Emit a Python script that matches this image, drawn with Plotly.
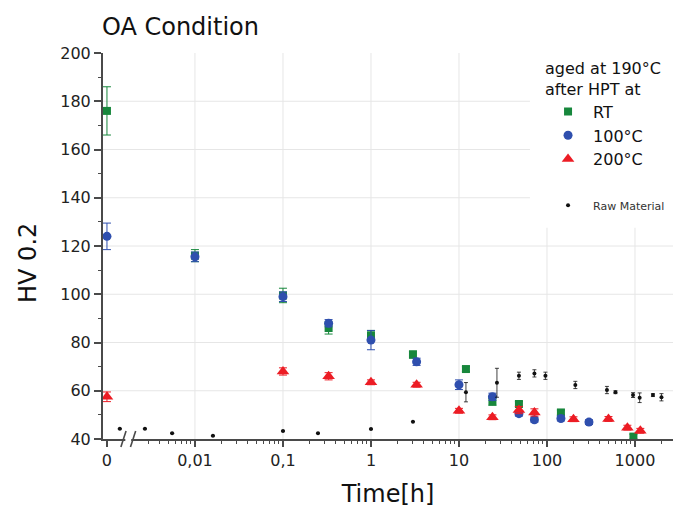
import plotly.graph_objects as go

# Time axis: t = 0 is drawn at the 1e-3 position, left of the axis break
T_ZERO = 1e-3

# Aged at 190 °C after HPT at room temperature
rt_time = [T_ZERO, 0.01, 0.1, 0.33, 1, 3, 12, 24, 48, 144, 960]
rt_hv = [176, 116, 99.5, 86, 83, 75, 69, 55.5, 54.5, 51, 41]
rt_err = [10, 2.5, 3, 2.5, 2, 1.5, 1, 1.5, 1, 1, 1]

# Aged at 190 °C after HPT at 100 °C
c100_time = [T_ZERO, 0.01, 0.1, 0.33, 1, 3.3, 10, 24, 48, 72, 144, 300]
c100_hv = [124, 115.5, 99, 88, 81, 72, 62.5, 57.5, 50.5, 48, 48.5, 47]
c100_err = [5.5, 2, 2, 1.5, 4, 1.5, 2, 1.5, 1, 1, 1, 1]

# Aged at 190 °C after HPT at 200 °C
c200_time = [T_ZERO, 0.1, 0.33, 1, 3.3, 10, 24, 48, 72, 200, 500, 820, 1150]
c200_hv = [57.5, 68, 66, 63.5, 62.5, 51.7, 49, 52, 51, 48.2, 48.3, 44.7, 43.4]
c200_err = [2, 1.5, 1.5, 1, 1, 1, 1, 1.5, 1.5, 1, 1, 1, 1]

# Raw material
raw_time = [0.0014, 0.0027, 0.0055, 0.016, 0.1, 0.25, 1, 3, 12, 27, 48, 72, 96,
            210, 480, 600, 950, 1130, 1600, 2000]
raw_hv = [44.2, 44.2, 42.4, 41.3, 43.3, 42.4, 44.1, 47.2, 59.4, 63.3, 66.2, 67.2,
          66.2, 62.4, 60.3, 59.4, 58.2, 57.1, 58.2, 57.3]
raw_err = [0, 0, 0, 0, 0, 0, 0, 0, 4, 6, 1.5, 1.5, 1.5, 1.5, 1.5, 0.6, 1, 2, 0.6, 1.5]

# Axis ticks
x_tickvals = [T_ZERO, 0.01, 0.1, 1, 10, 100, 1000]
x_ticktext = ["0", "0,01", "0,1", "1", "10", "100", "1000"]
x_gridvals = [0.01, 0.1, 1, 10, 100, 1000]
y_tickvals = list(range(40, 201, 20))
y_gridvals = list(range(60, 181, 20))

# Where the axis break "//" sits (in hours)
BREAK_AT = [0.00154, 0.00198]

FONT = "DejaVu Sans"
GREEN = "#17873c"
BLUE = "#2f4fae"
RED = "#ec1c24"
AXIS = "#4a4a4a"
GRID = "#e6e6e6"

# Minor ticks: 2..9 per decade, skipping the part hidden by the break
minor_vals = []
for dec in range(-3, 4):
    for m in range(2, 10):
        v = m * 10 ** dec
        if 0.0025 < v <= 2000:
            minor_vals.append(v)

fig = go.Figure()


def add_series(name, t, hv, err, color, symbol, size, legend, cap=4, thick=1):
    fig.add_trace(go.Scatter(
        x=t, y=hv, mode="markers", name=name, legend=legend,
        marker=dict(color=color, symbol=symbol, size=size, line=dict(width=0)),
        error_y=dict(type="data", array=err, visible=True, color=color,
                     thickness=thick, width=cap),
    ))


add_series("RT", rt_time, rt_hv, rt_err, GREEN, "square", 8, "legend")
add_series("100°C", c100_time, c100_hv, c100_err, BLUE, "circle", 9, "legend")
add_series("200°C", c200_time, c200_hv, c200_err, RED, "triangle-up", 11, "legend")
add_series("Raw Material", raw_time, raw_hv, raw_err, "#111111", "circle", 4,
           "legend2", cap=2, thick=0.8)

x_range = [-3.045, 3.432]

shapes = []
# light grid
for v in x_gridvals:
    shapes.append(dict(type="line", xref="x", yref="paper", x0=v, x1=v,
                       y0=0, y1=1, line=dict(color=GRID, width=1), layer="below"))
for v in y_gridvals:
    shapes.append(dict(type="line", xref="paper", yref="y", x0=0, x1=1, y0=v, y1=v,
                       line=dict(color=GRID, width=1), layer="below"))
# white panel behind the legend
shapes.append(dict(type="rect", xref="paper", yref="paper", x0=0.749, x1=1.01, y0=0.547, y1=1.0,
                   fillcolor="white", line=dict(width=0), layer="below"))
# axis break marks "//"
lo, hi = BREAK_AT
shapes.append(dict(type="rect", xref="x", yref="paper", x0=lo * 1.05, x1=hi / 1.05,
                   y0=-0.008, y1=0.008, fillcolor="white", line=dict(width=0), layer="above"))
for c in BREAK_AT:
    shapes.append(dict(type="line", xref="x", yref="paper", x0=c / 1.07, x1=c * 1.07,
                       y0=-0.021, y1=0.021, line=dict(color=AXIS, width=1.6), layer="above"))

fig.update_layout(
    width=675, height=511,
    margin=dict(l=103, r=2, t=53, b=72),
    paper_bgcolor="white", plot_bgcolor="white",
    font=dict(family=FONT, color="#222222", size=16),
    title=dict(text="OA Condition", x=0.151, xanchor="left", xref="container",
               y=1 - 27 / 511, yanchor="middle", yref="container",
               font=dict(size=24, color="#111111", family=FONT)),
    shapes=shapes,
    xaxis=dict(
        type="log", range=x_range,
        tickmode="array", tickvals=x_tickvals, ticktext=x_ticktext,
        ticks="outside", ticklen=6, tickwidth=1.5, tickcolor=AXIS,
        minor=dict(tickmode="array", tickvals=minor_vals, ticks="outside",
                   ticklen=3, tickwidth=1, tickcolor=AXIS, showgrid=False),
        showline=True, linecolor=AXIS, linewidth=2,
        showgrid=False, zeroline=False,
        tickfont=dict(size=16, color="#222222"),
        title=dict(text="Time[h]", font=dict(size=24, color="#111111"), standoff=16),
    ),
    yaxis=dict(
        range=[40, 200], tickmode="array", tickvals=y_tickvals,
        ticks="outside", ticklen=7, tickwidth=1.5, tickcolor=AXIS,
        minor=dict(dtick=10, tick0=0, ticks="outside", ticklen=3, tickwidth=1,
                   tickcolor=AXIS, showgrid=False),
        showline=True, linecolor=AXIS, linewidth=2,
        showgrid=False, zeroline=False,
        tickfont=dict(size=16, color="#222222"),
    ),
    annotations=[dict(text="HV 0.2", xref="paper", yref="paper", x=-0.1316, y=0.456,
                      xanchor="center", yanchor="middle", textangle=-90, showarrow=False,
                      font=dict(size=24, color="#111111", family=FONT))],
    legend=dict(
        title=dict(text="aged at 190°C<br>after HPT at", font=dict(size=16, color="#111111")),
        x=0.772, y=1.0, xanchor="left", yanchor="top",
        bgcolor="rgba(255,255,255,0)", borderwidth=0, itemwidth=40,
        font=dict(size=16, color="#111111"),
    ),
    legend2=dict(
        x=0.772, y=0.643, xanchor="left", yanchor="top",
        bgcolor="rgba(255,255,255,0)", borderwidth=0, itemwidth=40,
        font=dict(size=11, color="#333333"),
    ),
)

fig.write_html("out.html")
